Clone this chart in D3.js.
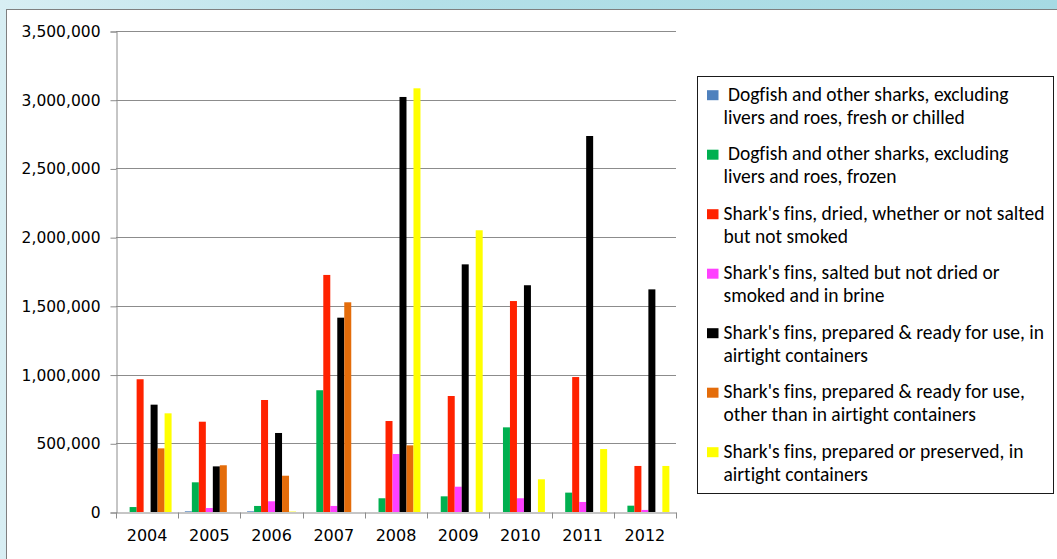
<!DOCTYPE html>
<html>
<head>
<meta charset="utf-8">
<script src="https://cdn.jsdelivr.net/npm/d3@7"></script>
<style>
body{margin:0;padding:0;overflow:hidden;}
</style>
</head>
<body>
<div id="chart"></div>
<script>
var years = ["2004","2005","2006","2007","2008","2009","2010","2011","2012"];
var seriesNames = [
	"\u00a0Dogfish and other sharks, excluding|livers and roes, fresh or chilled",
	"\u00a0Dogfish and other sharks, excluding|livers and roes, frozen",
	"Shark's fins, dried, whether or not salted|but not smoked",
	"Shark's fins, salted but not dried or|smoked and in brine",
	"Shark's fins, prepared & ready for use, in|airtight containers",
	"Shark's fins, prepared & ready for use,|other than in airtight containers",
	"Shark's fins, prepared or preserved, in|airtight containers"
];
var freshChilled = [0, 5000, 5000, 0, 0, 0, 0, 0, 0];
var frozen       = [36000, 216000, 44000, 886000, 100000, 114000, 616000, 141000, 46000];
var finsDried    = [966000, 657000, 815000, 1725000, 662000, 844000, 1535000, 982000, 335000];
var finsSalted   = [0, 29000, 78000, 44000, 422000, 184000, 100000, 73000, 15000];
var finsAirtight = [781000, 332000, 575000, 1414000, 3020000, 1802000, 1650000, 2736000, 1620000];
var finsOther    = [463000, 340000, 264000, 1526000, 485000, 0, 0, 0, 0];
var finsPreserved= [718000, 0, 3000, 0, 3083000, 2050000, 238000, 458000, 335000];
var yTicks = [0, 500000, 1000000, 1500000, 2000000, 2500000, 3000000, 3500000];

var allSeries = [freshChilled, frozen, finsDried, finsSalted, finsAirtight, finsOther, finsPreserved];
var colors = ["#4f81bd","#00b050","#ff2200","#ff40ff","#000000","#e46c0a","#ffff00"];

var W = 1057, H = 559;
var svg = d3.select("#chart").append("svg")
	.attr("width", W).attr("height", H)
	.style("display","block");

// background texture strip
var defs = svg.append("defs");
var grad = defs.append("linearGradient").attr("id","bg").attr("x1","0").attr("x2","1").attr("y1","0").attr("y2","0");
grad.append("stop").attr("offset","0%").attr("stop-color","#d8eef3");
grad.append("stop").attr("offset","40%").attr("stop-color","#b4e0e8");
grad.append("stop").attr("offset","100%").attr("stop-color","#a6dae3");
svg.append("rect").attr("width", W).attr("height", H).attr("fill","url(#bg)");

svg.append("rect")
	.attr("x", 6.5).attr("y", 9.5)
	.attr("width", W).attr("height", H)
	.attr("fill","#fff")
	.attr("stroke","#7f7f7f");

var plotLeft = 116, plotRight = 676, plotTop = 31, plotBottom = 512;

var x0 = d3.scaleBand().domain(years).range([plotLeft, plotRight]).padding(0);
var x1 = d3.scaleBand().domain(d3.range(allSeries.length)).range([0, x0.bandwidth()]).paddingInner(0).paddingOuter(0.95);
var y = d3.scaleLinear().domain([0, 3500000]).range([plotBottom, plotTop]);

// gridlines
svg.append("g").selectAll("line")
	.data(yTicks.slice(1))
	.enter().append("line")
	.attr("x1", plotLeft).attr("x2", plotRight)
	.attr("y1", function(d){ return Math.round(y(d)) + 0.5; })
	.attr("y2", function(d){ return Math.round(y(d)) + 0.5; })
	.attr("stroke","#8c8c8c");

// bars
var groups = svg.append("g").selectAll("g")
	.data(years)
	.enter().append("g")
	.attr("transform", function(d){ return "translate(" + x0(d) + ",0)"; });

groups.selectAll("rect")
	.data(function(d, i){ return allSeries.map(function(s, k){ return {k: k, v: s[i]}; }); })
	.enter().append("rect")
	.attr("x", function(d){ return x1(d.k); })
	.attr("width", x1.bandwidth())
	.attr("y", function(d){ return y(d.v); })
	.attr("height", function(d){ return plotBottom - y(d.v); })
	.attr("fill", function(d){ return colors[d.k]; });

// y axis
var yAxis = d3.axisLeft(y)
	.tickValues(yTicks)
	.tickSize(6)
	.tickPadding(10)
	.tickFormat(d3.format(","));
var ya = svg.append("g")
	.attr("transform","translate(" + (plotLeft + 0.5) + ",0.5)")
	.call(yAxis);
ya.select(".domain").attr("stroke","#8c8c8c");
ya.selectAll(".tick line").attr("stroke","#8c8c8c");
ya.selectAll("text")
	.attr("fill","#000")
	.style("font-family","'DejaVu Sans', Verdana, sans-serif")
	.style("font-size","15.5px");

// x axis
var xAxis = d3.axisBottom(x0).tickSize(0).tickPadding(17);
var xa = svg.append("g")
	.attr("transform","translate(0," + (plotBottom + 0.5) + ")")
	.call(xAxis);
xa.select(".domain").attr("stroke","#8c8c8c");
xa.selectAll("text")
	.attr("fill","#000")
	.style("font-family","'DejaVu Sans', Verdana, sans-serif")
	.style("font-size","16px");
xa.selectAll(".sep")
	.data(d3.range(years.length + 1))
	.enter().append("line")
	.attr("x1", function(d){ return Math.round(plotLeft + d * x0.step()) + 0.5; })
	.attr("x2", function(d){ return Math.round(plotLeft + d * x0.step()) + 0.5; })
	.attr("y1", 0).attr("y2", 6)
	.attr("stroke","#8c8c8c");

// legend
var legend = svg.append("g");
legend.append("rect")
	.attr("x", 697.5).attr("y", 76.5)
	.attr("width", 356).attr("height", 417)
	.attr("fill","#fff")
	.attr("stroke","#1a1a1a");

var items = legend.selectAll(".item")
	.data(seriesNames)
	.enter().append("g")
	.attr("transform", function(d, i){ return "translate(0," + (100.7 + i * 59.5) + ")"; });

items.append("rect")
	.attr("x", 707).attr("y", -10.5)
	.attr("width", 11.5).attr("height", 10)
	.attr("fill", function(d, i){ return colors[i]; });

items.each(function(d){
	var lines = d.split("|");
	var t = d3.select(this).append("text")
		.style("font-family","Carlito, Calibri, Lato, sans-serif")
		.style("font-size","19.5px")
		.style("font-variant-ligatures","none")
		.attr("fill","#000");
	lines.forEach(function(l, j){
		t.append("tspan").attr("x", 723.5).attr("y", j * 23).text(l);
	});
});
</script>
</body>
</html>
